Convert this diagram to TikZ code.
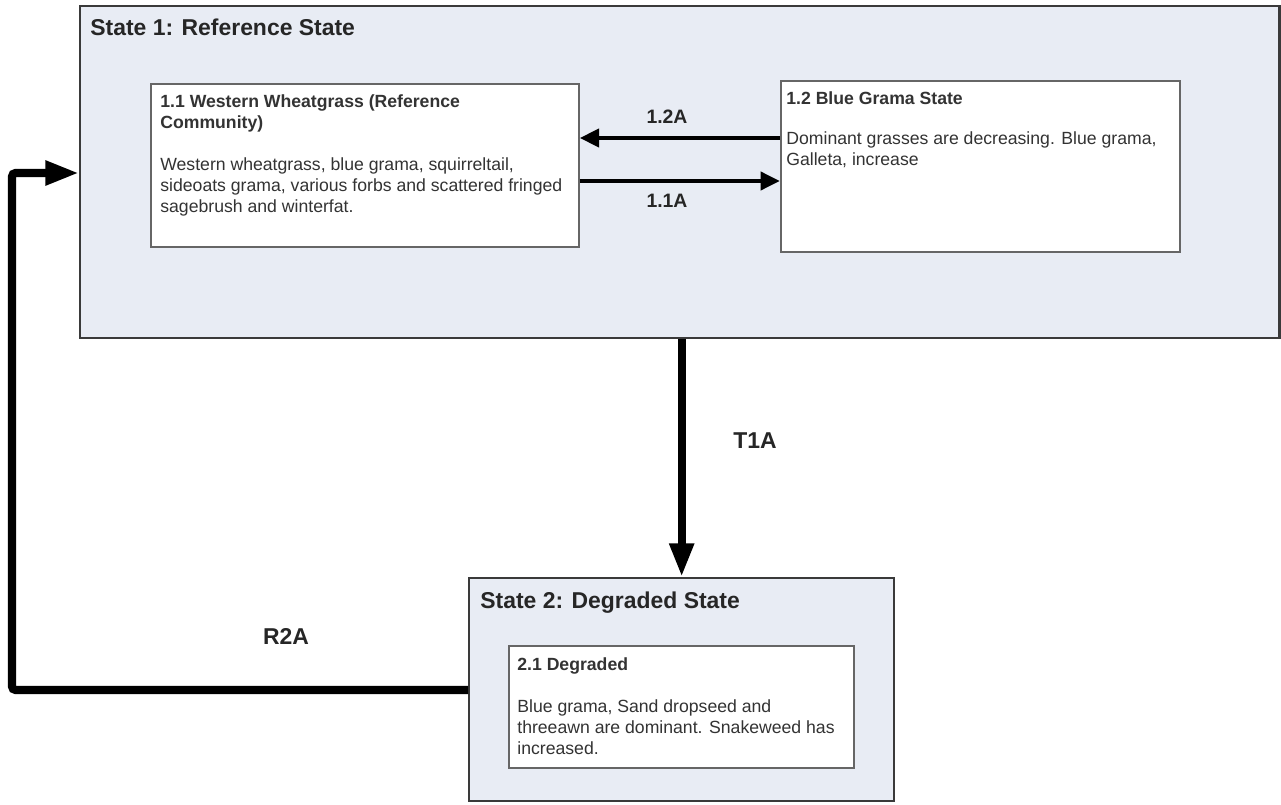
\documentclass[tikz,border=0pt]{standalone}
\usepackage{fontspec}
\setmainfont{Liberation Sans}
\usepackage{xcolor}
\usetikzlibrary{arrows.meta}
\definecolor{statefill}{HTML}{E8ECF4}
\definecolor{edge}{HTML}{3A3A3A}

\begin{document}
\begin{tikzpicture}[x=0.567pt,y=-0.567pt,
statebox/.style={draw=edge,line width=1.3pt,fill=statefill,anchor=north west,inner sep=0},
phasebox/.style={draw=black!60,line width=0.9pt,fill=white,anchor=north west,inner sep=0},
title/.style={anchor=north west,inner sep=0,font=\fontsize{13}{15}\selectfont\bfseries,text=black!85},
body/.style={anchor=north west,inner sep=0,align=left,font=\fontsize{10}{11.9}\selectfont,text=black!80},
pathway/.style={line width=2.8pt,-{Stealth[inset=0pt,length=11pt,width=10pt]}},
transit/.style={line width=4.6pt,rounded corners=2pt,-{Stealth[inset=0pt,length=19pt,width=13pt]}},
lab/.style={font=\fontsize{11}{13}\selectfont\bfseries,text=black!85},
biglab/.style={font=\fontsize{13}{15}\selectfont\bfseries,text=black!85}]
\useasboundingbox (0,0) rectangle (1281,805);
\node[statebox,minimum width=680pt,minimum height=188pt] (state1) at (79,5) {};
\node[title] (state1t) at (90,19) {State 1: Reference State};
\node[phasebox,minimum width=242.7pt,minimum height=92.4pt] (s11) at (150,83) {};
\node[body] (s11t) at (160,94) {\textbf{1.1 Western Wheatgrass (Reference}\\\textbf{Community)}\\[11.9pt]
Western wheatgrass, blue grama, squirreltail,\\sideoats grama, various forbs and scattered fringed\\sagebrush and winterfat.};
\node[phasebox,minimum width=226.2pt,minimum height=97pt] (s12) at (780,80) {};
\node[body] (s12t) at (786,91) {\textbf{1.2 Blue Grama State}\\[11pt]
Dominant grasses are decreasing. Blue grama,\\Galleta, increase};
\node[statebox,minimum width=241pt,minimum height=126.4pt] (state2) at (468,577) {};
\node[title] (state2t) at (480,592) {State 2: Degraded State};
\node[phasebox,minimum width=195.6pt,minimum height=69.2pt] (s21) at (508,645) {};
\node[body] (s21t) at (517,657) {\textbf{2.1 Degraded}\\[11.9pt]
Blue grama, Sand dropseed and\\threeawn are dominant. Snakeweed has\\increased.};
\coordinate (rcorner) at (12,173);
\draw[pathway] (s12.west |- 0,138) -- (s11.east |- 0,138);
\draw[pathway] (s11.east |- 0,181) -- (s12.west |- 0,181);
\draw[transit] (state2.north |- state1.south) -- (state2.north);
\draw[transit] (state2.west |- 0,690) -| (rcorner) -- (state1.west |- rcorner);
\node[lab] (l12a) at (667,117) {1.2A};
\node[lab] (l11a) at (667,201) {1.1A};
\node[biglab] (lt1a) at (755,441) {T1A};
\node[biglab] (lr2a) at (286,636) {R2A};
\end{tikzpicture}
\end{document}
